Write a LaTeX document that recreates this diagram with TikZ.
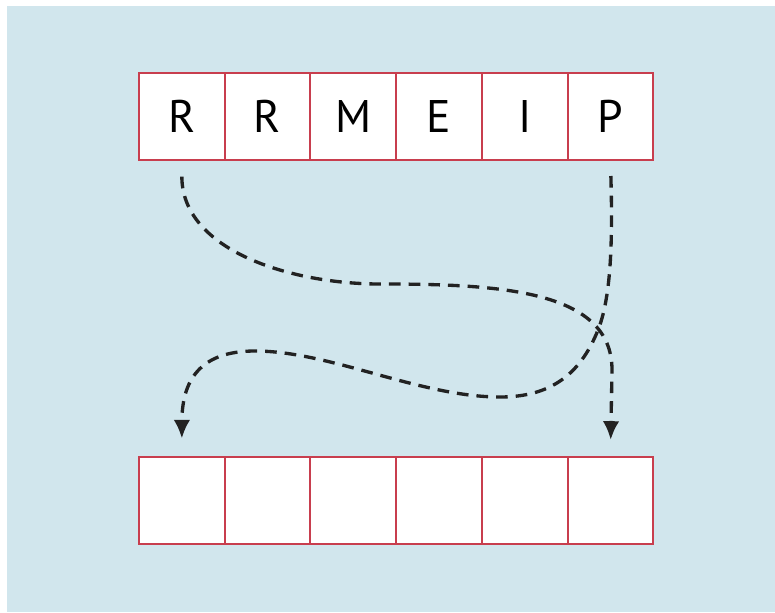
\documentclass[tikz,border=0pt]{standalone}
\usepackage{fontspec}
\setsansfont{PT Sans}
\usepackage{tikz}
\usetikzlibrary{positioning,arrows.meta}
\definecolor{boardblue}{RGB}{209,230,237}
\definecolor{cellred}{RGB}{200,62,78}
\definecolor{inkgray}{RGB}{34,34,34}

\begin{document}
\begin{tikzpicture}[
  x=0.3mm, y=-0.3mm,
  cell/.style={draw=cellred, fill=white, line width=0.6mm, minimum width=25.7mm,
               minimum height=26.1mm, inner sep=0pt, outer sep=0pt,
               font=\sffamily\fontsize{39}{40}\selectfont},
  flow/.style={-{Latex[length=5.6mm,width=5mm]}, line width=1mm, draw=inkgray,
               dash pattern=on 3.5mm off 2.4mm},
]
\useasboundingbox[fill=white] (0,0) rectangle (775,612);
\fill[boardblue] (7,6) rectangle (775,612);
% top row: the word
\node[cell] (t1) at (181.8,116.5) {R};
\node[cell] (t2) at (267.5,116.5) {R};
\node[cell] (t3) at (353.2,116.5) {M};
\node[cell] (t4) at (439.0,116.5) {E};
\node[cell] (t5) at (524.7,116.5) {I};
\node[cell] (t6) at (610.4,116.5) {P};
% bottom row: empty
\node[cell] (b1) at (181.8,500) {};
\node[cell] (b2) at (267.5,500) {};
\node[cell] (b3) at (353.2,500) {};
\node[cell] (b4) at (439.0,500) {};
\node[cell] (b5) at (524.7,500) {};
\node[cell] (b6) at (610.4,500) {};
% swaps
\draw[flow, shorten <=5mm, shorten >=5mm] (t1.south) .. controls (182,250) and (290,284) .. (380,284)
  .. controls (500,284) and (612,290) .. (612,370) -- (b6.north);
\draw[flow, shorten <=4.8mm, shorten >=5.4mm] (t6.south) .. controls (613,250) and (610,300) .. (598,330)
  .. controls (580,375) and (550,397) .. (500,397)
  .. controls (420,397) and (330,351) .. (255,351)
  .. controls (205,351) and (182,375) .. (b1.north);
\end{tikzpicture}
\end{document}
